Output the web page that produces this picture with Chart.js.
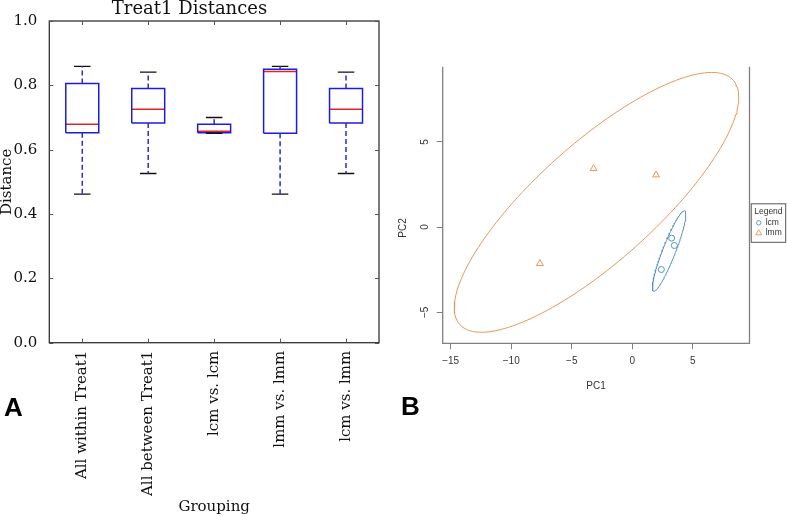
<!DOCTYPE html>
<html>
<head>
<meta charset="utf-8">
<script src="https://cdn.jsdelivr.net/npm/chart.js@4.4.1/dist/chart.umd.min.js"></script>
<style>
  body { margin: 0; width: 787px; height: 516px; background: #fff; position: relative; overflow: hidden; }
  #boxChart { position: absolute; left: 0; top: 0; }
  #pcaChart { position: absolute; left: 395px; top: 0; }
  .tag { position: absolute; font: bold 26px "Liberation Sans", Arial, sans-serif; color: #000; }
</style>
</head>
<body>
<canvas id="boxChart" width="395" height="516"></canvas>
<canvas id="pcaChart" width="392" height="516"></canvas>
<div class="tag" style="left:4px; top:392px;">A</div>
<div class="tag" style="left:401px; top:391px;">B</div>
<script>
// panel A: distances per grouping (boxplot summary)
const groups = ['All within Treat1', 'All between Treat1', 'lcm vs. lcm', 'lmm vs. lmm', 'lcm vs. lmm'];
const whiskerLow = [0.462, 0.526, 0.651, 0.462, 0.526];
const quart1 = [0.653, 0.683, 0.653, 0.651, 0.683];
const medians = [0.679, 0.726, 0.657, 0.843, 0.726];
const quart3 = [0.806, 0.790, 0.679, 0.850, 0.790];
const whiskerHigh = [0.859, 0.841, 0.700, 0.859, 0.841];
const distanceTicks = [0, 0.2, 0.4, 0.6, 0.8, 1.0];

// panel B: PCA scores
const lcmPC1 = [3.25, 3.47, 2.40];
const lcmPC2 = [-0.65, -1.08, -2.49];
const lmmPC1 = [-3.20, 1.96, -7.63];
const lmmPC2 = [3.43, 3.06, -2.14];
const pc1Ticks = [-15, -10, -5, 0, 5];
const pc2Ticks = [-5, 0, 5];

const blue = '#5590c8';
const orange = '#e8965a';

// list of [x1,y1,x2,y2] -> points with gaps between segments
function segments(list) {
  const pts = [];
  list.forEach(s => {
    pts.push({x: s[0], y: s[1]}, {x: s[2], y: s[3]}, {x: s[2], y: null});
  });
  return pts;
}

const half = 0.25, capHalf = 0.125;
const boxPts = [];
groups.forEach((g, i) => {
  const x = i + 1;
  boxPts.push({x: x - half, y: quart1[i]}, {x: x + half, y: quart1[i]},
              {x: x + half, y: quart3[i]}, {x: x - half, y: quart3[i]},
              {x: x - half, y: quart1[i]}, {x: x, y: null});
});
const medianPts = segments(groups.map((g, i) => [i + 1 - half, medians[i], i + 1 + half, medians[i]]));
const whiskerPts = segments(groups.flatMap((g, i) => [
  [i + 1, quart3[i], i + 1, whiskerHigh[i]],
  [i + 1, quart1[i], i + 1, whiskerLow[i]]
]));
const capPts = segments(groups.flatMap((g, i) => [
  [i + 1 - capHalf, whiskerHigh[i], i + 1 + capHalf, whiskerHigh[i]],
  [i + 1 - capHalf, whiskerLow[i], i + 1 + capHalf, whiskerLow[i]]
]));

function lineSet(data, color, width, dash) {
  return {data: data, showLine: true, borderColor: color, borderWidth: width,
          borderDash: dash || [], pointRadius: 0, spanGaps: false, fill: false};
}

const serif = '"DejaVu Serif", serif';

const frameA = {
  id: 'frameA',
  afterDatasetsDraw(chart) {
    const {ctx, chartArea: a, scales: {x, y}} = chart;
    ctx.save();
    ctx.strokeStyle = '#333';
    ctx.lineWidth = 1.3;
    ctx.strokeRect(a.left, a.top, a.width, a.height);
    ctx.lineWidth = 1;
    ctx.strokeStyle = '#555';
    ctx.beginPath();
    groups.forEach((g, i) => {
      const px = Math.round(x.getPixelForValue(i + 1)) + 0.5;
      ctx.moveTo(px, a.bottom); ctx.lineTo(px, a.bottom - 4);
      ctx.moveTo(px, a.top); ctx.lineTo(px, a.top + 4);
    });
    distanceTicks.forEach(v => {
      const py = Math.round(y.getPixelForValue(v)) + 0.5;
      ctx.moveTo(a.left, py); ctx.lineTo(a.left + 4, py);
      ctx.moveTo(a.right, py); ctx.lineTo(a.right - 4, py);
    });
    ctx.stroke();
    ctx.restore();
  }
};

new Chart(document.getElementById('boxChart'), {
  type: 'scatter',
  data: {
    datasets: [
      lineSet(whiskerPts, '#2a2ad8', 1.5, [5, 3]),
      lineSet(capPts, '#111', 1.3),
      lineSet(boxPts, '#1c1ce0', 1.5),
      lineSet(medianPts, '#e02424', 1.5)
    ]
  },
  options: {
    responsive: false,
    animation: false,
    events: [],
    layout: {padding: {top: 0, right: 16, bottom: 0, left: 0}},
    plugins: {
      legend: {display: false},
      tooltip: {enabled: false},
      title: {display: true, text: 'Treat1 Distances', color: '#111',
              font: {family: serif, size: 18, weight: 'normal', lineHeight: 1},
              padding: {top: 0, bottom: 3}}
    },
    scales: {
      x: {
        type: 'linear', min: 0.5, max: 5.5,
        afterBuildTicks: s => { s.ticks = groups.map((g, i) => ({value: i + 1})); },
        afterFit: s => { s.height = 173.3; },
        grid: {display: false},
        border: {display: false},
        ticks: {autoSkip: false, minRotation: 90, maxRotation: 90, padding: 0, color: '#111',
                font: {family: serif, size: 15},
                callback: (v, i) => groups[i]},
        title: {display: true, text: 'Grouping', color: '#111',
                font: {family: serif, size: 15, lineHeight: 1}, padding: {top: 0, bottom: 1.8}}
      },
      y: {
        type: 'linear', min: 0, max: 1,
        afterBuildTicks: s => { s.ticks = distanceTicks.map(v => ({value: v})); },
        afterFit: s => { s.width = 49.3; },
        grid: {display: false},
        border: {display: false},
        ticks: {padding: 4, color: '#111', font: {family: serif, size: 15},
                callback: v => v.toFixed(1)},
        title: {display: true, text: 'Distance', color: '#111',
                font: {family: serif, size: 15, lineHeight: 1}, padding: 0}
      }
    }
  },
  plugins: [frameA]
});

// 95% normal-theory ellipse around a group of points
function ellipse(xs, ys) {
  const n = xs.length;
  const mx = xs.reduce((s, v) => s + v, 0) / n;
  const my = ys.reduce((s, v) => s + v, 0) / n;
  let sxx = 0, syy = 0, sxy = 0;
  for (let i = 0; i < n; i++) {
    const dx = xs[i] - mx, dy = ys[i] - my;
    sxx += dx * dx; syy += dy * dy; sxy += dx * dy;
  }
  sxx /= n - 1; syy /= n - 1; sxy /= n - 1;
  const r = Math.sqrt(5.991); // chi-square 0.95, 2 df
  const l11 = Math.sqrt(sxx), l21 = sxy / l11, l22 = Math.sqrt(Math.max(syy - l21 * l21, 0));
  const pts = [];
  for (let k = 0; k <= 160; k++) {
    const t = 2 * Math.PI * k / 160;
    pts.push({x: mx + r * l11 * Math.cos(t), y: my + r * (l21 * Math.cos(t) + l22 * Math.sin(t))});
  }
  return pts;
}

const sans = '"Liberation Sans", Arial, sans-serif';
const minus = v => String(v).replace('-', '\u2212');

const extrasB = {
  id: 'extrasB',
  afterDraw(chart) {
    const {ctx, chartArea: a} = chart;
    ctx.save();
    ctx.strokeStyle = '#808080';
    ctx.lineWidth = 1.3;
    ctx.beginPath();
    ctx.moveTo(a.left, a.top); ctx.lineTo(a.left, a.bottom);
    ctx.lineTo(a.right, a.bottom); ctx.lineTo(a.right, a.top);
    ctx.stroke();

    // y axis title
    ctx.fillStyle = '#333';
    ctx.font = '10px ' + sans;
    ctx.textAlign = 'center';
    ctx.textBaseline = 'middle';
    ctx.translate(8, 228);
    ctx.rotate(-Math.PI / 2);
    ctx.fillText('PC2', 0, 0);
    ctx.setTransform(1, 0, 0, 1, 0, 0);

    // legend box
    const lx = a.right + 1.2, ly = 203.3;
    ctx.strokeStyle = '#555';
    ctx.lineWidth = 1;
    ctx.strokeRect(lx + 0.5, ly + 0.5, 34.5, 38.5);
    ctx.font = '8.5px ' + sans;
    ctx.textAlign = 'left';
    ctx.fillStyle = '#333';
    ctx.fillText('Legend', lx + 3.5, ly + 8);
    const items = chart.data.datasets.filter(d => d.legendLabel);
    items.forEach((d, i) => {
      const yy = ly + 19.5 + i * 9.8;
      const sx = lx + 8;
      ctx.strokeStyle = d.borderColor;
      ctx.lineWidth = 0.9;
      ctx.beginPath();
      if (d.pointStyle === 'triangle') {
        ctx.moveTo(sx, yy - 3); ctx.lineTo(sx + 3, yy + 2.2); ctx.lineTo(sx - 3, yy + 2.2); ctx.closePath();
      } else {
        ctx.arc(sx, yy, 2.2, 0, Math.PI * 2);
      }
      ctx.stroke();
      ctx.fillStyle = '#333';
      ctx.fillText(d.legendLabel, lx + 15, yy);
    });
    ctx.restore();
  }
};

new Chart(document.getElementById('pcaChart'), {
  type: 'scatter',
  data: {
    datasets: [
      {data: ellipse(lmmPC1, lmmPC2), showLine: true, borderColor: orange, borderWidth: 1, pointRadius: 0},
      {data: ellipse(lcmPC1, lcmPC2), showLine: true, borderColor: blue, borderWidth: 1, pointRadius: 0},
      {legendLabel: 'lcm', data: lcmPC1.map((v, i) => ({x: v, y: lcmPC2[i]})),
       pointStyle: 'circle', pointRadius: 3, borderColor: blue, backgroundColor: 'rgba(0,0,0,0)', borderWidth: 1},
      {legendLabel: 'lmm', data: lmmPC1.map((v, i) => ({x: v, y: lmmPC2[i]})),
       pointStyle: 'triangle', pointRadius: 4, borderColor: orange, backgroundColor: 'rgba(0,0,0,0)', borderWidth: 1}
    ]
  },
  options: {
    responsive: false,
    animation: false,
    events: [],
    layout: {padding: {top: 66.7, right: 37.5, bottom: 123.3, left: 0}},
    plugins: {legend: {display: false}, tooltip: {enabled: false}},
    scales: {
      x: {
        type: 'linear', min: -15.66, max: 9.68,
        afterBuildTicks: s => { s.ticks = pc1Ticks.map(v => ({value: v})); },
        afterFit: s => { s.height = 49.4; },
        border: {display: false},
        grid: {drawOnChartArea: false, drawTicks: true, tickLength: 6, color: '#808080', lineWidth: 1},
        ticks: {padding: 6, color: '#333', font: {family: sans, size: 10}, callback: v => minus(v)},
        title: {display: true, text: 'PC1', color: '#333', font: {family: sans, size: 10, lineHeight: 1.2},
                padding: {top: 0, bottom: 0}}
      },
      y: {
        type: 'linear', min: -6.82, max: 9.41,
        afterBuildTicks: s => { s.ticks = pc2Ticks.map(v => ({value: v})); },
        afterFit: s => { s.width = 47.7; },
        border: {display: false},
        grid: {drawOnChartArea: false, drawTicks: true, tickLength: 6, color: '#808080', lineWidth: 1},
        ticks: {minRotation: 90, maxRotation: 90, crossAlign: 'center', padding: 6, color: '#333',
                font: {family: sans, size: 10}, callback: v => minus(v)}
      }
    }
  },
  plugins: [extrasB]
});
</script>
</body>
</html>
